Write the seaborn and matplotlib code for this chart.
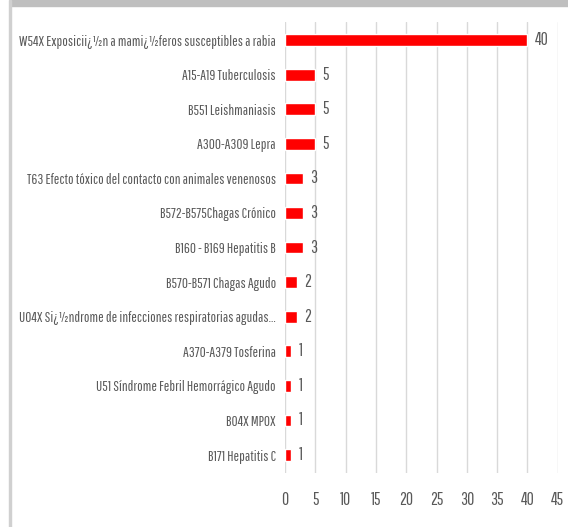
import matplotlib
matplotlib.use('Agg')
import matplotlib.pyplot as plt
import seaborn as sns
import pandas as pd
from matplotlib.patches import Rectangle

# Datos del gráfico
categorias = [
    'W54X Exposicii¿½n a mami¿½feros susceptibles a rabia',
    'A15-A19 Tuberculosis',
    'B551 Leishmaniasis',
    'A300-A309 Lepra',
    'T63 Efecto tóxico del contacto con animales venenosos',
    'B572-B575Chagas Crónico',
    'B160 - B169 Hepatitis B',
    'B570-B571 Chagas Agudo',
    'U04X Si¿½ndrome de infecciones respiratorias agudas...',
    'A370-A379 Tosferina',
    'U51 Síndrome Febril Hemorrágico Agudo',
    'B04X MPOX',
    'B171 Hepatitis C',
]
casos = [40, 5, 5, 5, 3, 3, 3, 2, 2, 1, 1, 1, 1]
ticks_x = [0, 5, 10, 15, 20, 25, 30, 35, 40, 45]

df = pd.DataFrame({'evento': categorias, 'casos': casos})

sns.set_style('white')
plt.rcParams['font.family'] = ['Pathway Gothic One', 'Sofia Sans Extra Condensed', 'DejaVu Sans']
gris = '#595959'
fs = 10.5      # etiquetas de categorías
fs_num = 12.5  # números

fig = plt.figure(figsize=(5.68, 5.27), dpi=100)
ax = fig.add_axes([0.502, 0.1025, 0.48, 0.8555])

sns.barplot(data=df, x='casos', y='evento', color='#ff0000', width=0.34,
            saturation=1, ax=ax, zorder=3)

ax.set_xlim(0, 45)
ax.set_ylim(12.52, -0.52)
ax.set_xticks(ticks_x)
ax.grid(axis='x', color='#d9d9d9', linewidth=1, zorder=0)
ax.set_xlabel('')
ax.set_ylabel('')
for s in ax.spines.values():
    s.set_visible(False)
ax.tick_params(axis='y', length=0, pad=6.5, labelsize=fs, labelcolor=gris)
ax.tick_params(axis='x', length=0, pad=14, labelsize=fs_num, labelcolor=gris)

# etiquetas de valor
for p, v in zip(ax.patches, casos):
    ax.text(p.get_width() + 1.2, p.get_y() + p.get_height() / 2, f'{v}',
            ha='left', va='center', fontsize=fs_num, color=gris)

# borde del recorte
fig.patches.append(Rectangle((10 / 568, 1 - 6 / 527), 1, 6 / 527, transform=fig.transFigure,
                             color='#bfbfbf', zorder=5))
fig.patches.append(Rectangle((9 / 568, 0), 2 / 568, 1, transform=fig.transFigure,
                             color='#d0d0d0', zorder=5))

fig.savefig('out.png', dpi=100)
